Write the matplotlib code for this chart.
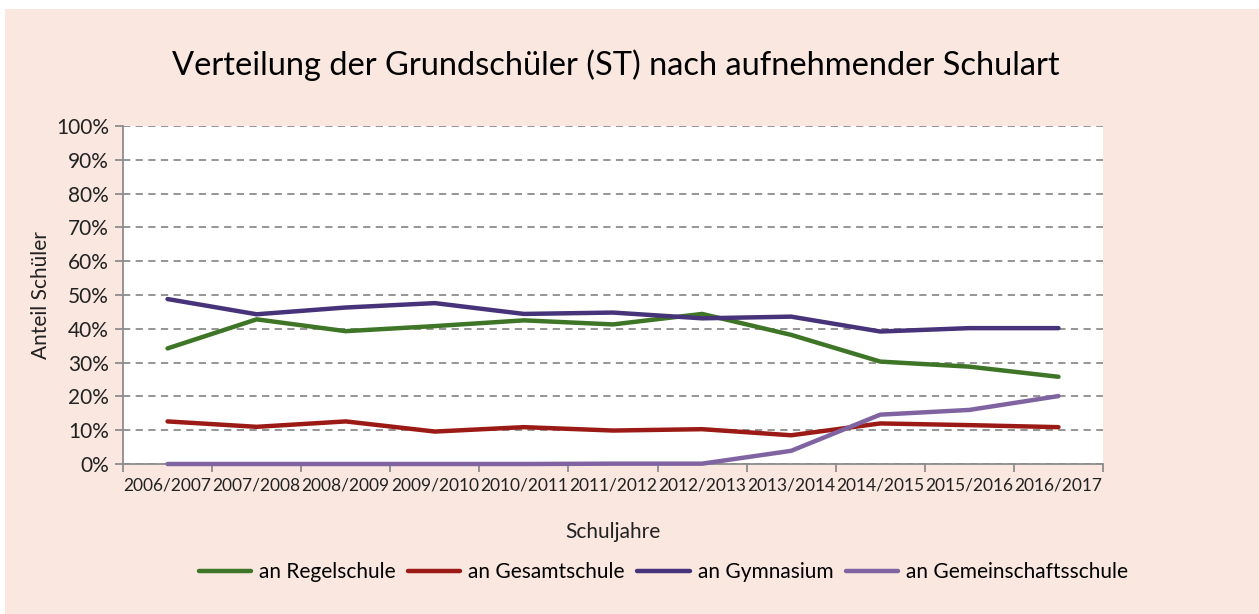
import numpy as np
import matplotlib
matplotlib.use("Agg")
import matplotlib.pyplot as plt
from matplotlib.patches import Rectangle
from matplotlib.ticker import FixedLocator, PercentFormatter

years = ["2006/2007", "2007/2008", "2008/2009", "2009/2010", "2010/2011", "2011/2012",
         "2012/2013", "2013/2014", "2014/2015", "2015/2016", "2016/2017"]
regelschule = [34.2, 42.8, 39.3, 40.8, 42.5, 41.3, 44.4, 38.2, 30.3, 28.8, 25.8]
gesamtschule = [12.6, 11.0, 12.6, 9.6, 10.9, 9.9, 10.3, 8.5, 12.0, 11.5, 10.9]
gymnasium = [48.8, 44.3, 46.3, 47.6, 44.4, 44.8, 43.1, 43.6, 39.2, 40.2, 40.2]
gemeinschaftsschule = [0.0, 0.0, 0.0, 0.0, 0.0, 0.1, 0.1, 3.9, 14.6, 16.0, 20.1]

series = [
    ("an Regelschule", regelschule, "#3f7526"),
    ("an Gesamtschule", gesamtschule, "#9b1a15"),
    ("an Gymnasium", gymnasium, "#46337a"),
    ("an Gemeinschaftsschule", gemeinschaftsschule, "#8064a2"),
]

font = "Lato"
bg = "#f9e7e0"
grey = "#8c8c8c"

fig = plt.figure(figsize=(12.59, 6.14), dpi=100, facecolor="white")
fig.patches.append(Rectangle((5 / 1259, 0), 1, (614 - 9) / 614, transform=fig.transFigure,
                             facecolor=bg, edgecolor="none", zorder=-10))

ax = fig.add_axes([123 / 1259, 1 - 464 / 614, 980 / 1259, 338 / 614])
ax.set_facecolor("white")

x = np.arange(len(years))
for name, vals, color in series:
    ax.plot(x, vals, color=color, lw=3.2, solid_capstyle="round", solid_joinstyle="round",
            label=name, zorder=3, clip_on=False)

ax.set_xlim(-0.5, len(years) - 0.5)
ax.set_ylim(0, 100)
ax.set_yticks(np.arange(0, 101, 10))
ax.yaxis.set_major_formatter(PercentFormatter(decimals=0))
ax.yaxis.grid(True, color=grey, lw=1.3, ls=(0, (4, 3)))
ax.set_axisbelow(True)

ax.set_xticks(x)
ax.set_xticklabels(years)
ax.xaxis.set_minor_locator(FixedLocator(np.arange(-0.5, len(years), 1)))
ax.tick_params(axis="x", which="major", length=0, pad=10, labelsize=12.5, labelcolor="#222222")
ax.tick_params(axis="x", which="minor", length=6, color=grey, width=1.3)
ax.tick_params(axis="y", length=6, color=grey, width=1.3, labelsize=15, labelcolor="#222222", pad=4)
for lab in ax.get_xticklabels() + ax.get_yticklabels():
    lab.set_family(font)

for s in ["top", "right"]:
    ax.spines[s].set_visible(False)
for s in ["left", "bottom"]:
    ax.spines[s].set_color(grey)
    ax.spines[s].set_linewidth(1.3)

ax.set_ylabel("Anteil Schüler", family=font, fontsize=15, color="#222222", labelpad=4)
ax.set_xlabel("Schuljahre", family=font, fontsize=15, color="#222222", labelpad=20)

fig.text(0.489, 1 - 65 / 614, "Verteilung der Grundschüler (ST) nach aufnehmender Schulart",
         ha="center", va="center", family=font, fontsize=23.5, color="black")

fig.legend(loc="center", bbox_to_anchor=(0.527, 1 - 572 / 614), ncol=4, frameon=False,
           prop={"family": font, "size": 15}, handlelength=2.5, handletextpad=0.4,
           columnspacing=0.6)

fig.savefig("out.png", dpi=100, facecolor=fig.get_facecolor())
